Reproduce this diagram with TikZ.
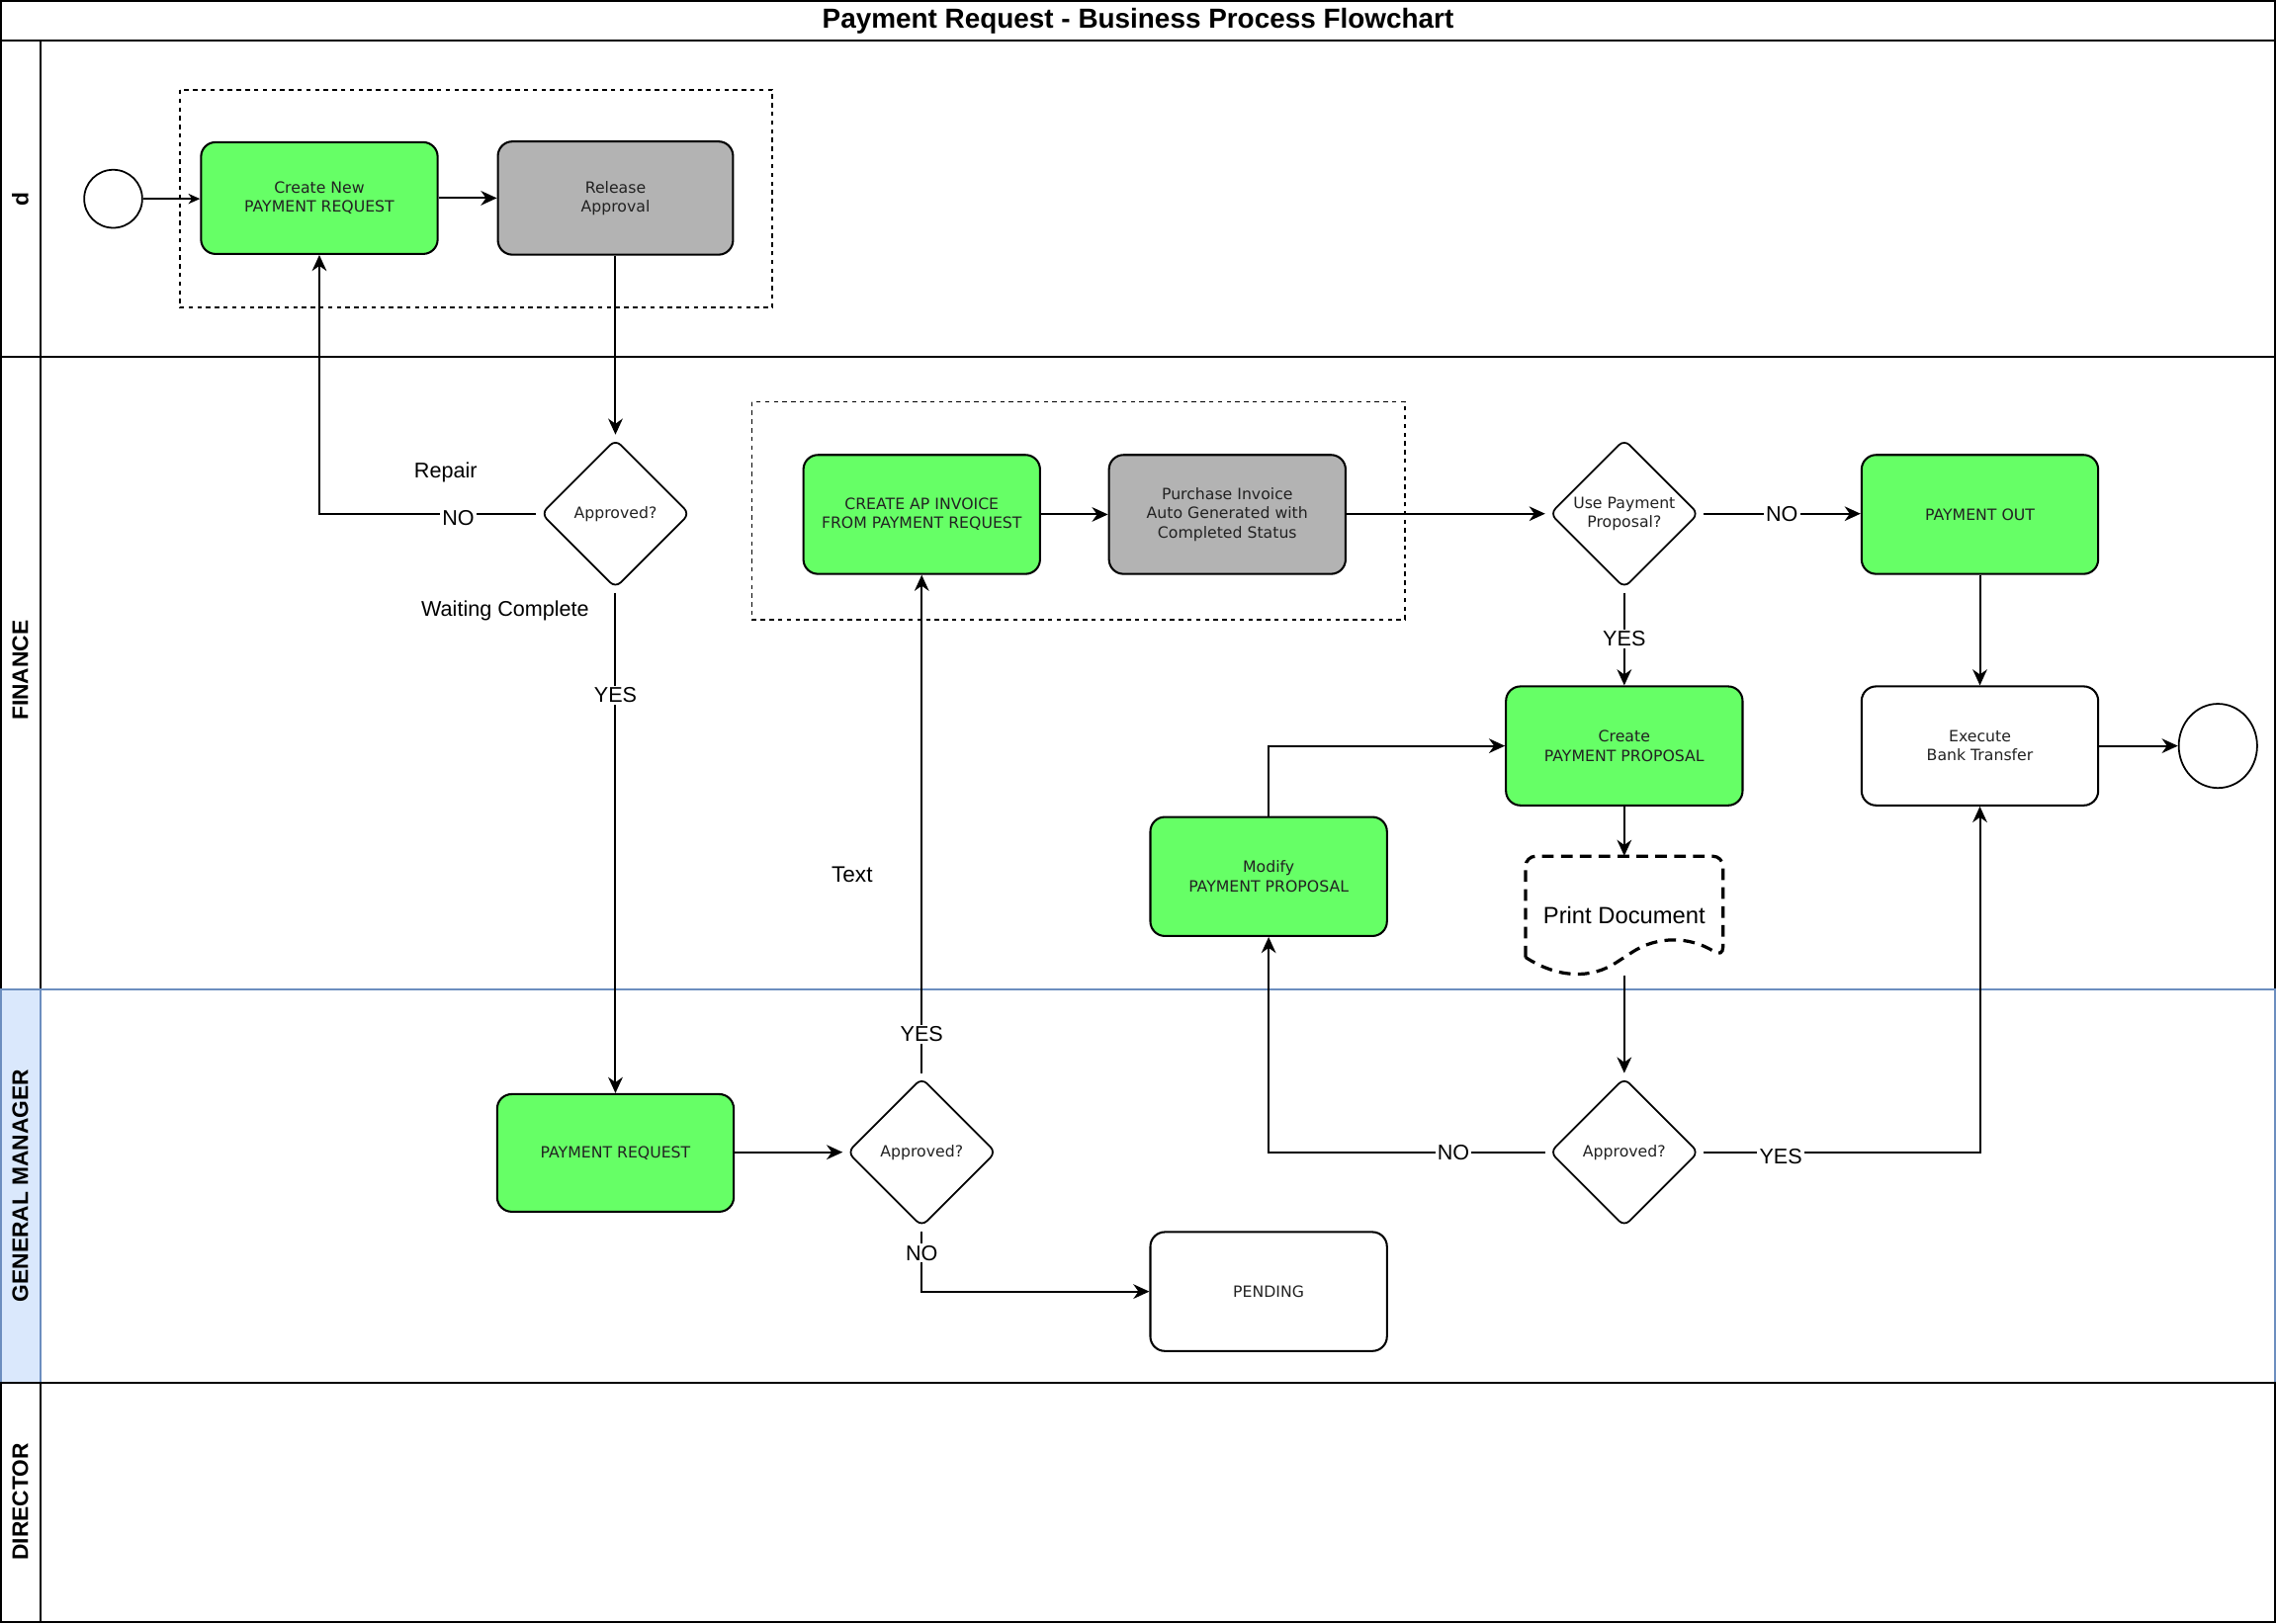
\documentclass[tikz,border=0pt]{standalone}
\usepackage{fontspec}
\setmainfont{Liberation Sans}
\newfontfamily\boxfont{DejaVu Sans}
\usetikzlibrary{shapes.geometric,arrows.meta}
\definecolor{boxgreen}{HTML}{66FF66}
\definecolor{boxgray}{HTML}{B3B3B3}
\definecolor{gmfill}{HTML}{DAE8FC}
\definecolor{gmline}{HTML}{6C8EBF}
\definecolor{boxtext}{HTML}{222222}
\begin{document}
\begin{tikzpicture}[x=1pt,y=-1pt,
  every node/.style={inner sep=0pt},
  task/.style={draw, line width=1.4pt, rounded corners=10pt, minimum width=163pt, minimum height=82pt,
    font=\boxfont\fontsize{10.7}{13.2}\selectfont, text=boxtext, align=center},
  greentask/.style={task, fill=boxgreen},
  graytask/.style={task, fill=boxgray},
  whitetask/.style={task, fill=white},
  decision/.style={draw, diamond, shape aspect=1, minimum width=104pt, minimum height=104pt,
    rounded corners=5pt, line width=1.2pt, fill=white, font=\boxfont\fontsize{10.7}{13.2}\selectfont,
    text=boxtext, align=center, outer sep=2.5pt},
  event/.style={draw, ellipse, line width=1.2pt, fill=white},
  conn/.style={line width=1.35pt, -{Stealth[length=11pt,width=10pt,inset=3.5pt]}},
  elabel/.style={fill=white, font=\fontsize{14.7}{17}\selectfont, inner sep=1.5pt},
  freelabel/.style={font=\fontsize{14.7}{17}\selectfont},
  group/.style={draw, dash pattern=on 3pt off 3pt, line width=1.1pt},
  docline/.style={line width=2.2pt, dash pattern=on 8pt off 5pt},
  lanelabel/.style={font=\bfseries\fontsize{15.5}{18}\selectfont, rotate=90},
  laneline/.style={line width=1.4pt},
]
\useasboundingbox (0,0) rectangle (1568,1118.5);

% ---------- pool and lanes ----------
\fill[gmfill] (0.7,682) rectangle (28,953);
\draw[laneline] (0.7,0.7) rectangle (1567.3,1117.8);
\draw[laneline] (0,28) -- (1568,28);
\draw[laneline] (28,28) -- (28,682);
\draw[laneline] (28,953) -- (28,1118);
\draw[laneline] (0,246) -- (1568,246);
\draw[laneline, gmline] (0.7,682) rectangle (1567.3,953);
\draw[laneline, gmline] (28,682) -- (28,953);
\draw[laneline] (0,953) -- (1568,953);

\node[font=\bfseries\fontsize{19}{22}\selectfont] (title) at (784,14.5) {Payment Request - Business Process Flowchart};
\node[lanelabel] (laned) at (14,137) {d};
\node[lanelabel] (lanefin) at (14,462) {FINANCE};
\node[lanelabel] (lanegm) at (14,817) {GENERAL MANAGER};
\node[lanelabel] (lanedir) at (14,1035) {DIRECTOR};

% ---------- groups ----------
\draw[group] (124,62) rectangle (532,212);
\draw[group] (518,277) rectangle (968,427);

% ---------- nodes ----------
\node[event, minimum width=40pt, minimum height=40pt] (start) at (78,137) {};
\node[greentask, minimum height=77pt] (create) at (220,136.5) {Create New\\PAYMENT REQUEST};
\node[graytask, minimum width=162pt, minimum height=78pt] (release) at (424,136.5) {Release\\Approval};

\node[decision] (ap1) at (424,354) {Approved?};
\node[greentask] (apinv) at (635,354.5) {CREATE AP INVOICE\\FROM PAYMENT REQUEST};
\node[graytask] (pinv) at (845.5,354.5) {Purchase Invoice\\Auto Generated with\\Completed Status};
\node[decision] (usepp) at (1119,354) {Use Payment\\Proposal?};
\node[greentask] (pout) at (1364,354.5) {PAYMENT OUT};
\node[greentask] (cpp) at (1119,514) {Create\\PAYMENT PROPOSAL};
\node[whitetask] (exec) at (1364,514) {Execute\\Bank Transfer};
\node[event, minimum width=54pt, minimum height=58pt] (end) at (1528,514) {};
\node[greentask] (modpp) at (874,604) {Modify\\PAYMENT PROPOSAL};

% Print Document (document shape)
\draw[docline, rounded corners=7pt] (1051,659.7) -- (1051,590) -- (1187,590) -- (1187,659.7)
  .. controls (1164.33,644.97) and (1141.67,644.97) .. (1119,659.7)
  .. controls (1096.33,674.43) and (1073.67,674.43) .. (1051,659.7);
\node[minimum width=136pt, minimum height=82pt, font=\fontsize{16.2}{19}\selectfont] (pdoc) at (1119,631) {Print Document};

\node[greentask, minimum height=81pt] (preq) at (424,794.5) {PAYMENT REQUEST};
\node[decision] (ap2) at (635,794) {Approved?};
\node[whitetask] (pending) at (874,890) {PENDING};
\node[decision] (ap3) at (1119,794) {Approved?};

% free text
\node[freelabel] (repair) at (307,325.5) {Repair};
\node[freelabel] (waiting) at (348,421) {Waiting Complete};
\node[font=\fontsize{15.4}{18}\selectfont] (txt) at (587,603) {Text};

% ---------- connectors ----------
\draw[line width=1.35pt, -{Stealth[length=8pt,width=7pt,inset=2.5pt]}] (start.east) -- (create.west |- start.east);
\draw[conn] (create.east) -- (create.east -| release.west);
\draw[conn] (release.south) -- (ap1.north);
\draw[conn] (ap1.west) -| node[elabel, pos=0.18, yshift=-3pt] {NO} (create.south);
\draw[conn] (ap1.south) -- node[elabel, pos=0.205] {YES} (preq.north);
\draw[conn] (preq.east |- ap2.west) -- (ap2.west);
\draw[conn] (ap2.north) -- node[elabel, pos=0.078] {YES} (apinv.south);
\draw[conn] (ap2.south) |- node[elabel, pos=0.18] {NO} (pending.west);
\draw[conn] (apinv.east) -- (pinv.west);
\draw[conn] (pinv.east |- usepp.west) -- (usepp.west);
\draw[conn] (usepp.east) -- node[elabel] {NO} (usepp.east -| pout.west);
\draw[conn] (usepp.south) -- node[elabel] {YES} (cpp.north);
\draw[conn] (pout.south) -- (exec.north);
\draw[conn] (exec.east) -- (end.west);
\draw[conn] (modpp.north) |- (cpp.west);
\draw[conn] (cpp.south) -- (pdoc.north);
\draw[conn] (pdoc.south) -- (ap3.north);
\draw[conn] (ap3.west) -| node[elabel, pos=0.166] {NO} (modpp.south);
\draw[conn] (ap3.east) -| node[elabel, pos=0.14, yshift=-3pt] {YES} (exec.south);
\end{tikzpicture}
\end{document}
